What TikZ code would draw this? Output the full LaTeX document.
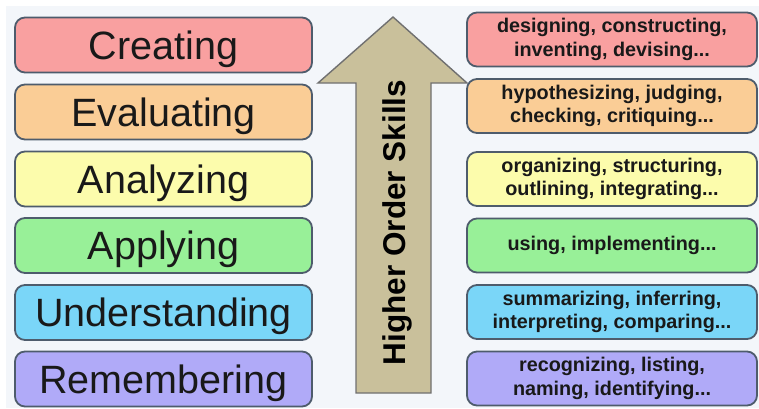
\documentclass[tikz,border=0pt]{standalone}
\usepackage{fontspec}
\setmainfont{Liberation Sans}
\definecolor{bgc}{RGB}{243,246,250}
\definecolor{edgec}{RGB}{78,92,108}
\definecolor{txtc}{RGB}{25,25,25}
\definecolor{cre}{RGB}{249,160,160}
\definecolor{eva}{RGB}{250,205,150}
\definecolor{ana}{RGB}{252,252,172}
\definecolor{app}{RGB}{152,240,152}
\definecolor{und}{RGB}{122,214,248}
\definecolor{rem}{RGB}{176,170,248}
\definecolor{khaki}{RGB}{201,192,155}
\definecolor{arrowedge}{RGB}{112,112,112}
\begin{document}
\begin{tikzpicture}[x=1pt,y=-1pt,
  lbox/.style={draw=edgec, line width=1.8pt, rounded corners=10pt,
    minimum width=297pt, minimum height=55pt, inner sep=0pt,
    text=txtc, font=\fontsize{39.5}{44}\selectfont,
    text height=28.3pt, text depth=0pt},
  rbox/.style={draw=edgec, line width=1.8pt, rounded corners=10pt,
    minimum width=290pt, minimum height=54pt, inner sep=0pt,
    text=txtc, align=center, font=\bfseries\fontsize{19.8}{23.5}\selectfont},
  arrowshape/.style={fill=khaki, draw=arrowedge, line width=1.4pt, line join=miter}
]
\useasboundingbox (0,0) rectangle (759,408);
\fill[white] (0,0) rectangle (759,408);
\fill[bgc] (6,6) rectangle (759,408);

% left column
\node[lbox, fill=cre] (L1) at (163.5,45) {Creating};
\node[lbox, fill=eva] (L2) at (163.5,112) {Evaluating};
\node[lbox, fill=ana] (L3) at (163.5,179) {Analyzing};
\node[lbox, fill=app] (L4) at (163.5,245.5) {Applying};
\node[lbox, fill=und] (L5) at (163.5,312.5) {Understanding};
\node[lbox, fill=rem] (L6) at (163.5,379) {Remembering};

% arrow
\draw[arrowshape] (393,17) -- (467,83) -- (431,83) -- (431,393) -- (356,393) -- (356,83) -- (318,83) -- cycle;
\node[rotate=90, text=black, font=\bfseries\fontsize{31.5}{36}\selectfont,
  text height=22.5pt, text depth=0pt, inner sep=0pt] (hos) at (394,222.5) {Higher Order Skills};

% right column
\node[rbox, fill=cre] (R1) at (612,39.5) {designing, constructing,\\inventing, devising...};
\node[rbox, fill=eva] (R2) at (612,106) {hypothesizing, judging,\\checking, critiquing...};
\node[rbox, fill=ana] (R3) at (612,179) {organizing, structuring,\\outlining, integrating...};
\node[rbox, fill=app] (R4) at (612,245.5) {using, implementing...};
\node[rbox, fill=und] (R5) at (612,312) {summarizing, inferring,\\interpreting, comparing...};
\node[rbox, fill=rem] (R6) at (612,378.5) {recognizing, listing,\\naming, identifying...};
\end{tikzpicture}
\end{document}
